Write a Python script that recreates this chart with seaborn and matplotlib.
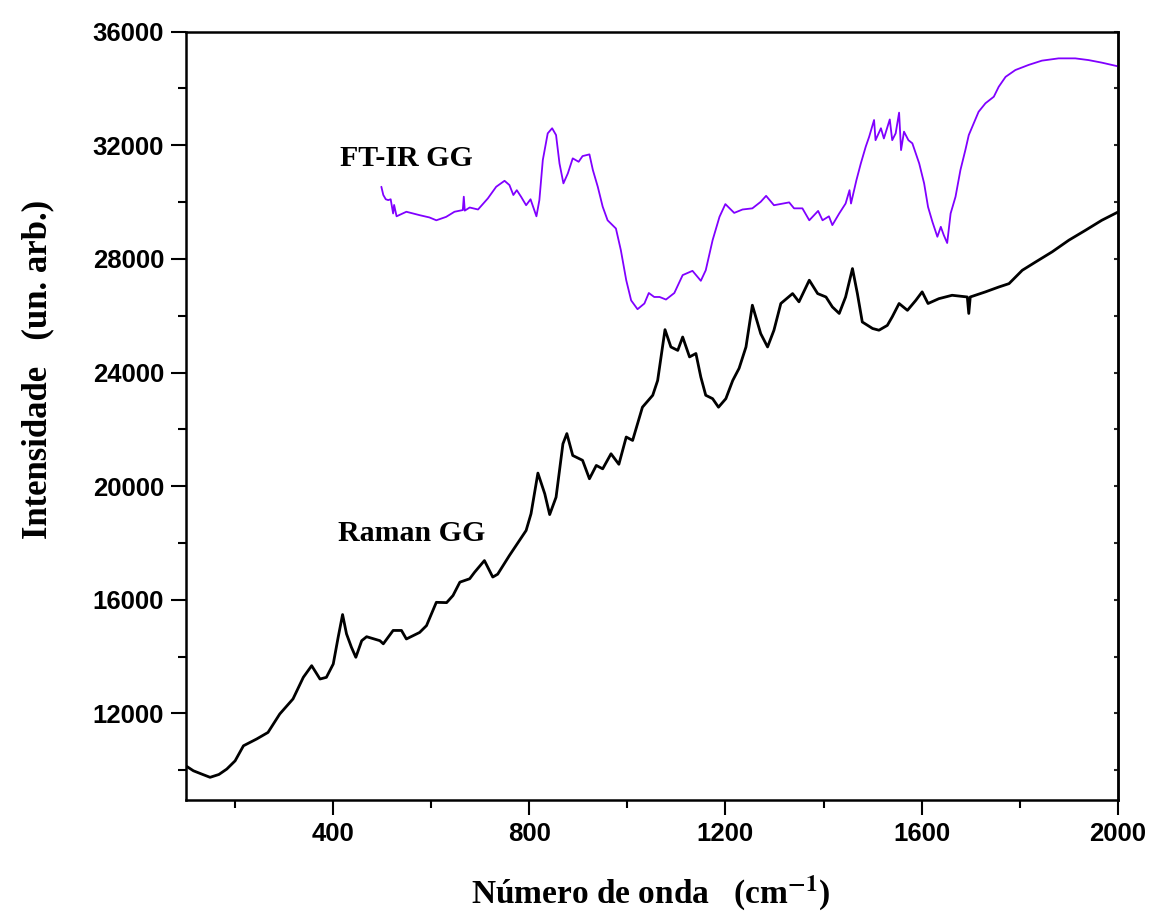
import matplotlib
matplotlib.use("Agg")
import matplotlib.pyplot as plt
import seaborn as sns
import pandas as pd
from matplotlib.ticker import MultipleLocator

# ---- data ----
raman_x = [101, 116, 135, 150, 168, 184, 201, 218, 245, 268, 292, 319, 340, 357, 374, 387, 401, 411, 420, 428,
           438, 447, 459, 469, 496, 503, 523, 540, 550, 577, 591, 611, 632, 645, 659, 679, 689, 709, 726, 736,
           760, 794, 804, 818, 832, 842, 855, 869, 877, 889, 909, 923, 937, 950, 967, 983, 998, 1011, 1031, 1052,
           1062, 1077, 1089, 1103, 1113, 1127, 1140, 1150, 1160, 1174, 1186, 1201, 1215, 1228, 1242, 1255, 1272,
           1286, 1299, 1313, 1337, 1350, 1371, 1388, 1405, 1418, 1432, 1445, 1459, 1469, 1479, 1500, 1513, 1530,
           1540, 1554, 1571, 1588, 1601, 1613, 1635, 1662, 1693, 1696, 1699, 1730, 1757, 1778, 1805, 1832, 1866,
           1900, 1934, 1967, 2000]
raman_y = [10150, 9980, 9850, 9750, 9850, 10040, 10330, 10860, 11100, 11330, 11980, 12510, 13270, 13680, 13210,
           13270, 13740, 14680, 15480, 14800, 14330, 13975, 14560, 14700, 14560, 14450, 14920, 14920, 14620, 14850,
           15090, 15910, 15900, 16150, 16620, 16740, 16970, 17380, 16800, 16900, 17560, 18440, 19030, 20460, 19730,
           19000, 19610, 21490, 21850, 21080, 20910, 20260, 20730, 20610, 21140, 20770, 21730, 21610, 22780, 23200,
           23720, 25510, 24900, 24780, 25250, 24550, 24670, 23840, 23200, 23080, 22780, 23080, 23720, 24150, 24900,
           26370, 25370, 24900, 25490, 26430, 26780, 26490, 27250, 26780, 26660, 26310, 26080, 26660, 27660, 26780,
           25780, 25550, 25490, 25660, 25960, 26430, 26190, 26540, 26840, 26430, 26600, 26720, 26660, 26080, 26660,
           26840, 27010, 27130, 27600, 27890, 28250, 28660, 29010, 29360, 29650]

ftir_x = [499, 503, 508, 513, 518, 523, 525, 530, 550, 577, 597, 611, 631, 648, 665, 667, 669, 679, 696, 716,
          733, 750, 760, 768, 775, 784, 794, 803, 815, 821, 828, 838, 847, 855, 862, 870, 879, 889, 901, 909,
          923, 930, 940, 950, 960, 977, 987, 998, 1008, 1021, 1035, 1044, 1055, 1066, 1079, 1096, 1113, 1133,
          1150, 1160, 1174, 1188, 1200, 1218, 1235, 1255, 1272, 1283, 1299, 1330, 1340, 1357, 1371, 1389, 1398,
          1411, 1418, 1432, 1445, 1453, 1456, 1467, 1476, 1486, 1493, 1503, 1506, 1517, 1523, 1535, 1540, 1547,
          1554, 1558, 1564, 1573, 1581, 1595, 1605, 1613, 1622, 1632, 1639, 1645, 1652, 1659, 1669, 1679, 1689,
          1696, 1706, 1716, 1730, 1747, 1757, 1771, 1791, 1818, 1845, 1879, 1913, 1940, 1967, 2000]
ftir_y = [30540, 30250, 30100, 30070, 30100, 29600, 29900, 29500, 29660, 29540, 29460, 29360, 29480, 29660, 29720,
          30190, 29700, 29810, 29740, 30130, 30540, 30750, 30600, 30250, 30420, 30180, 29890, 30100, 29500, 30070,
          31480, 32420, 32600, 32360, 31360, 30660, 31010, 31540, 31420, 31620, 31680, 31130, 30540, 29840, 29360,
          29070, 28310, 27250, 26540, 26230, 26430, 26800, 26660, 26660, 26570, 26800, 27430, 27580, 27230, 27600,
          28660, 29480, 29930, 29620, 29740, 29780, 30010, 30220, 29890, 29990, 29780, 29780, 29360, 29690, 29360,
          29500, 29190, 29600, 29950, 30420, 29950, 30770, 31360, 31950, 32300, 32890, 32180, 32600, 32240, 32910,
          32180, 32420, 33150, 31830, 32480, 32180, 32070, 31360, 30660, 29830, 29300, 28780, 29130, 28840, 28560,
          29600, 30190, 31130, 31830, 32360, 32770, 33180, 33480, 33710, 34060, 34410, 34650, 34830, 34980, 35060,
          35060, 35000, 34910, 34780]

series_labels = ["FT-IR GG", "Raman GG"]
x_label = "Número de onda   (cm$^{\\mathbf{-1}}$)"
y_label = "Intensidade   (un. arb.)"

# ---- figure ----
sns.set_style("white")
plt.rcParams["font.family"] = ["Liberation Sans", "DejaVu Sans"]
plt.rcParams["mathtext.fontset"] = "stix"
plt.rcParams["mathtext.default"] = "bf"
plt.rcParams["text.color"] = "black"
plt.rcParams["axes.labelcolor"] = "black"

fig = plt.figure(figsize=(11.51, 9.18), dpi=100)
ax = fig.add_axes([0.1612, 0.1285, 0.8101, 0.837])

raman_df = pd.DataFrame({"x": raman_x, "y": raman_y})
ftir_df = pd.DataFrame({"x": ftir_x, "y": ftir_y})
sns.lineplot(data=raman_df, x="x", y="y", ax=ax, color="black", linewidth=2.0)
sns.lineplot(data=ftir_df, x="x", y="y", ax=ax, color="#8000ff", linewidth=1.3)

ax.set_xlim(100, 2000)
ax.set_ylim(8950, 36000)
ax.xaxis.set_major_locator(MultipleLocator(400))
ax.xaxis.set_minor_locator(MultipleLocator(200))
ax.yaxis.set_major_locator(MultipleLocator(4000))
ax.yaxis.set_minor_locator(MultipleLocator(2000))

for s in ax.spines.values():
    s.set_linewidth(1.8)
    s.set_color("black")

ax.tick_params(axis="both", which="both", bottom=True, left=True, top=False, right=False,
               direction="out", width=1.5, colors="black")
ax.tick_params(axis="both", which="major", length=10.5, labelsize=18.5, pad=5)
ax.tick_params(axis="both", which="minor", length=6)
for lab in ax.get_xticklabels() + ax.get_yticklabels():
    lab.set_fontweight("bold")
    lab.set_family("Liberation Sans")

# small inward ticks on the right spine
ax_r = ax.secondary_yaxis("right")
ax_r.yaxis.set_major_locator(MultipleLocator(2000))
ax_r.tick_params(axis="y", which="both", direction="in", length=3, width=1.5, labelright=False)
ax_r.spines["right"].set_linewidth(1.8)

ax.set_xlabel(x_label, fontsize=24, fontweight="bold", family="Liberation Serif", va="center")
ax.set_ylabel(y_label, fontsize=25, fontweight="bold", family="Liberation Serif", va="center")
ax.xaxis.set_label_coords(0.499, -0.121)
ax.yaxis.set_label_coords(-0.158, 0.56)

ax.text(414, 31550, series_labels[0], fontsize=21.5, fontweight="bold", family="Liberation Serif",
        ha="left", va="center", color="black")
ax.text(410, 18330, series_labels[1], fontsize=21.5, fontweight="bold", family="Liberation Serif",
        ha="left", va="center", color="black")

fig.savefig("out.png", dpi=100)
